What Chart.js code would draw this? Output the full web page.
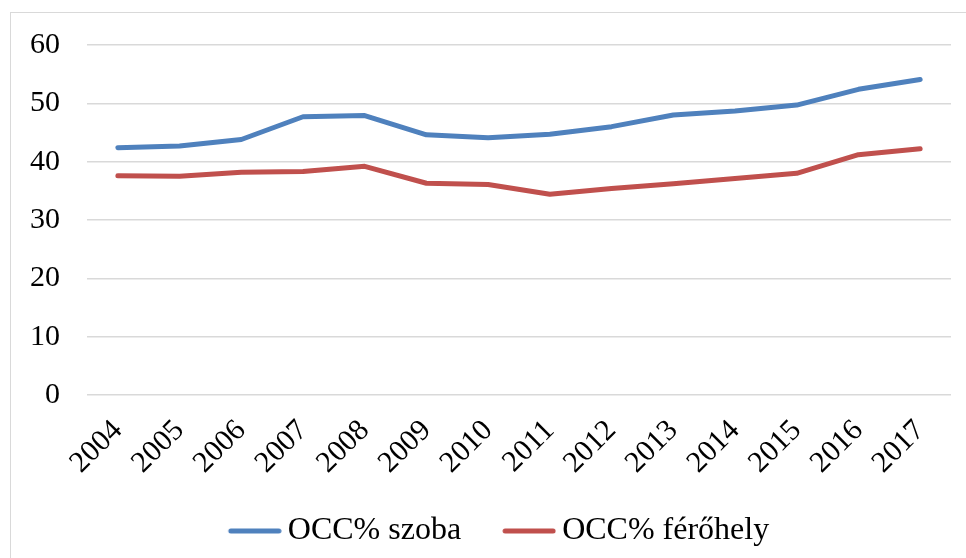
<!DOCTYPE html>
<html>
<head>
<meta charset="utf-8">
<script src="https://cdn.jsdelivr.net/npm/chart.js@4.4.1/dist/chart.umd.min.js"></script>
<style>
  html, body { margin: 0; padding: 0; background: #fff; overflow: hidden; }
  #wrap { position: relative; width: 966px; height: 558px; }
  #frame { position: absolute; left: 10px; top: 12px; width: 1000px; height: 600px; border: 1px solid #d9d9d9; box-sizing: border-box; }
  canvas { position: absolute; left: 0; top: 0; }
</style>
</head>
<body>
<div id="wrap">
  <div id="frame"></div>
  <canvas id="myChart" width="966" height="558"></canvas>
</div>
<script>
const years = ['2004', '2005', '2006', '2007', '2008', '2009', '2010', '2011', '2012', '2013', '2014', '2015', '2016', '2017'];
const occSzoba = [42.4, 42.7, 43.8, 47.7, 47.9, 44.6, 44.1, 44.7, 46.0, 48.0, 48.7, 49.7, 52.4, 54.1];
const occFerohely = [37.6, 37.5, 38.2, 38.3, 39.2, 36.3, 36.1, 34.4, 35.4, 36.2, 37.1, 38.0, 41.2, 42.2];
const yTicks = [0, 10, 20, 30, 40, 50, 60];

const serif = '"Liberation Serif", "Times New Roman", serif';
const tickFont = { family: serif, size: 30 };
const legendFont = { family: serif, size: 32 };

// legend marker: a short thick line sitting close to its text
function legendLine(color) {
  const c = document.createElement('canvas');
  c.width = 83;
  c.height = 8;
  const g = c.getContext('2d');
  g.strokeStyle = color;
  g.lineWidth = 5;
  g.lineCap = 'round';
  g.beginPath();
  g.moveTo(32, 4);
  g.lineTo(80, 4);
  g.stroke();
  return c;
}

const data = {
  labels: years,
  datasets: [{
      label: 'OCC% szoba',
      data: occSzoba,
      borderColor: '#4f81bd',
      backgroundColor: '#4f81bd',
      borderWidth: 5,
      pointRadius: 0,
      pointStyle: legendLine('#4f81bd'),
      tension: 0,
      borderCapStyle: 'round',
      borderJoinStyle: 'round',
    }, {
      label: 'OCC% férőhely',
      data: occFerohely,
      borderColor: '#c0504d',
      backgroundColor: '#c0504d',
      borderWidth: 5,
      pointRadius: 0,
      pointStyle: legendLine('#c0504d'),
      tension: 0,
      borderCapStyle: 'round',
      borderJoinStyle: 'round',
  }],
};

// the original legend sits a bit right of centre
const shiftLegend = {
  id: 'shiftLegend',
  afterLayout(chart) { chart.legend.left += 27; },
};

const config = {
  type: 'line',
  data: data,
  plugins: [shiftLegend],
  options: {
      responsive: false,
      animation: false,
      layout: { padding: { left: 0, right: 15, top: 43, bottom: 1 } },
      plugins: {
          legend: {
              position: 'bottom',
              labels: {
                  font: legendFont,
                  color: '#000',
                  usePointStyle: true,
                  pointStyleWidth: 63,
                  padding: 22,
              },
          },
          tooltip: { enabled: false },
      },
      scales: {
          x: {
              offset: true,
              grid: { display: false },
              border: { display: false },
              ticks: { font: tickFont, color: '#000', maxRotation: 45, minRotation: 45, autoSkip: false, padding: 10 },
              afterFit: (scale) => { scale.height = 98; },
          },
          y: {
              min: 0,
              max: 60,
              afterBuildTicks: (scale) => { scale.ticks = yTicks.map(v => ({ value: v })); },
              grid: { color: '#d9d9d9', lineWidth: 1.5, drawTicks: false },
              border: { display: false },
              ticks: { font: tickFont, color: '#000', padding: 27 },
              afterFit: (scale) => { scale.width = 87; },
          },
      },
  },
};

const ctx = document.getElementById('myChart');
const myChart = new Chart(ctx, config);
</script>
</body>
</html>
